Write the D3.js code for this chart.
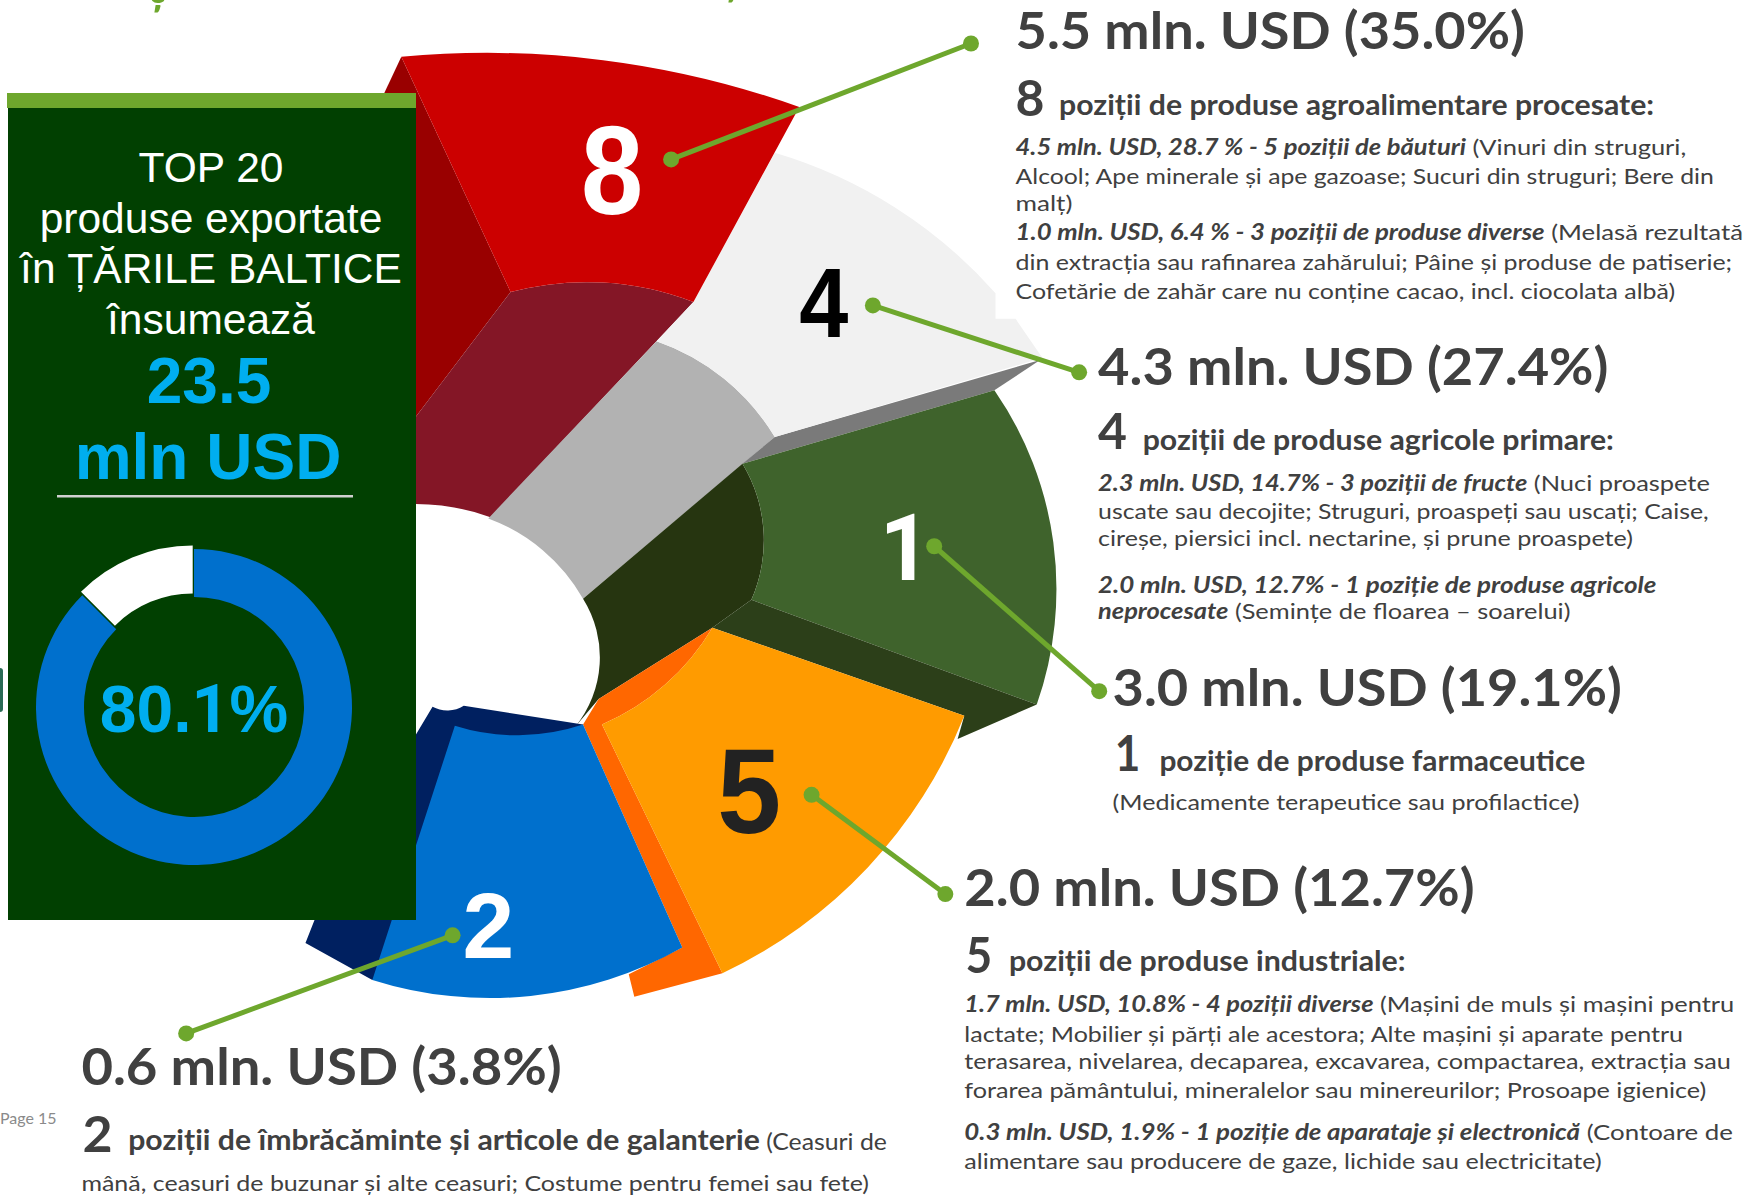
<!DOCTYPE html>
<html>
<head>
<meta charset="utf-8">
<title>Top 20 produse exportate in Tarile Baltice</title>
<script src="https://cdn.jsdelivr.net/npm/d3@7"></script>
<style>
    html, body { margin: 0; background: #fff; overflow: hidden; }
    svg { display: block; }
    .copy { font-family: Lato, sans-serif; fill: #404040; white-space: pre; }
    .panel { font-family: "Liberation Sans", Arial, sans-serif; text-anchor: middle; }
    .digit { font-family: "Liberation Sans", Arial, sans-serif; font-weight: bold; text-anchor: middle; }
    .plain1 { font-family: Roboto, sans-serif; }
</style>
</head>
<body>
<svg width="1748" height="1195"></svg>
<script>
// values
const groupUsd = [5.5, 4.3, 3.0, 2.0, 0.6];
const groupShare = [35.0, 27.4, 19.1, 12.7, 3.8];
const groupPositions = [8, 4, 1, 5, 2];
const groupNames = [
    "poziții de produse agroalimentare procesate:",
    "poziții de produse agricole primare:",
    "poziție de produse farmaceutice",
    "poziții de produse industriale:",
    "poziții de îmbrăcăminte și articole de galanterie"
];
// the drawn wedges are not to scale with the shares, so these are the sweeps seen in the picture (degrees)
const drawnSweep = [25, 32, 54, 43, 47];
// donut as drawn: the label says 80.1 but the gap is about an eighth of the ring
const donutDrawn = [87.5, 12.5];
const totalLabel = "23.5";

const GREEN = "#6ea72d", BLUE = "#0070cd", CYAN = "#00aeef", PANEL = "#014001";

const svg = d3.select("svg");
const px = d3.scaleLinear().domain([0, 1568]).range([0, 1748]);

// wedge angles
const sumRad = d3.sum(drawnSweep) * Math.PI / 180;
const wedges = d3.pie().sort(null).startAngle(0).endAngle(sumRad)(drawnSweep);
const rim = i => (wedges[i].endAngle - wedges[i].startAngle) * 180 / Math.PI;

// Every face of the hand-built 3D pie: outline points in the 1568 wide frame of the picture.
// Third number = arc sweep towards the next point (positive is clockwise on screen).
const faces = [
    { fill: "#990000", pts: [[360, 51], [458, 262], [300, 470], [290, 200]] },
    { fill: "#841626", pts: [[458, 262, 36], [622, 271], [440, 464, -20], [373, 452], [300, 470]] },
    { fill: "#b2b2b2", pts: [[589, 306, 40], [695, 392], [523, 537, -40], [438, 465]] },
    { fill: "#263510", pts: [[666, 416, 55], [674, 538], [639, 563], [537, 627], [516, 652, -71], [523, 537]] },
    { fill: "#7a7a7a", pts: [[933, 323], [695, 392], [666, 416], [892, 350]] },
    { fill: "#f1f1f1", pts: [[695, 137, rim(1)], [893, 263], [893, 286], [911, 286], [935, 321], [695, 392, -40], [589, 306], [622, 271]] },
    { fill: "#3f632c", pts: [[666, 416], [892, 350, rim(2)], [930, 632], [674, 538, -55]] },
    { fill: "#2c3f19", pts: [[674, 538], [930, 632], [859, 663], [865, 642], [639, 563]] },
    { fill: "#ff6700", pts: [[639, 563, 36], [540, 650], [648, 873], [569, 894], [564, 874], [612, 850], [523, 650], [537, 627]] },
    { fill: "#ff9b00", pts: [[639, 563], [865, 642, rim(3)], [648, 873], [540, 650, -36]] },
    { fill: "#002060", pts: [[388, 634, -60], [416, 633], [523, 650], [500, 720], [334, 879], [274, 846], [300, 780], [373, 659]] },
    { fill: BLUE, pts: [[408, 651, -36], [523, 650], [612, 850, rim(4)], [334, 879]] },
    { fill: "#cc0000", pts: [[360, 51, rim(0)], [717, 96], [622, 271, -36], [458, 262]] }
];

// outline with straight and circular edges, through d3.path
function faceOutline(pts) {
    const p = d3.path();
    pts.forEach((a, i) => {
        const b = pts[(i + 1) % pts.length];
        const ax = px(a[0]), ay = px(a[1]), bx = px(b[0]), by = px(b[1]);
        if (i === 0) p.moveTo(ax, ay);
        if (!a[2]) { p.lineTo(bx, by); return; }
        const cw = a[2] > 0;
        const half = Math.abs(a[2]) * Math.PI / 360;
        const L = Math.hypot(bx - ax, by - ay);
        const R = L / (2 * Math.sin(half));
        const h = R * Math.cos(half) * (cw ? 1 : -1);
        const cx = (ax + bx) / 2 - (by - ay) / L * h;
        const cy = (ay + by) / 2 + (bx - ax) / L * h;
        p.arc(cx, cy, R, Math.atan2(ay - cy, ax - cx), Math.atan2(by - cy, bx - cx), !cw);
    });
    p.closePath();
    return p.toString();
}

svg.append("g").selectAll("path").data(faces).join("path")
    .attr("d", d => faceOutline(d.pts))
    .attr("fill", d => d.fill);

// big numbers sitting on the wedges
const digitLayout = [
    { x: 549, y: 192, size: 127, sx: 0.88, fill: "#fff" },
    { x: 739, y: 302, size: 98, sx: 0.9, fill: "#000" },
    { x: 812, y: 520, size: 93, sx: 0.95, fill: "#fff" },
    { x: 672, y: 747, size: 121, sx: 0.95, fill: "#222" },
    { x: 438, y: 859, size: 93, sx: 1, fill: "#fff" }
];
svg.append("g").selectAll("text").data(groupPositions).join("text")
    .attr("class", d => d === 1 ? "digit plain1" : "digit")
    .attr("transform", (d, i) => `translate(${px(digitLayout[i].x)},${px(digitLayout[i].y)}) scale(${digitLayout[i].sx},1)`)
    .attr("font-size", (d, i) => digitLayout[i].size)
    .attr("fill", (d, i) => digitLayout[i].fill)
    .text(d => d);

// side panel
svg.append("rect").attr("x", 8).attr("y", 108).attr("width", 408).attr("height", 812).attr("fill", PANEL);
svg.append("rect").attr("x", 7).attr("y", 93).attr("width", 409).attr("height", 15).attr("fill", GREEN);

const panelLines = [
    { t: "TOP 20", x: 211, y: 182, size: 42.5, fill: "#fff" },
    { t: "produse exportate", x: 211, y: 233, size: 42.5, fill: "#fff" },
    { t: "în ȚĂRILE BALTICE", x: 211, y: 283, size: 42.5, fill: "#fff" },
    { t: "însumează", x: 211, y: 334, size: 42.5, fill: "#fff" },
    { t: totalLabel, x: 209, y: 403, size: 64, fill: CYAN, bold: true },
    { t: "mln USD", x: 208, y: 479, size: 64, fill: CYAN, bold: true }
];
svg.append("g").selectAll("text").data(panelLines).join("text")
    .attr("class", "panel")
    .attr("x", d => d.x).attr("y", d => d.y)
    .attr("font-size", d => d.size)
    .attr("font-weight", d => d.bold ? "bold" : "normal")
    .attr("fill", d => d.fill)
    .text(d => d.t);
svg.append("rect").attr("x", 57).attr("y", 495).attr("width", 296).attr("height", 2.5).attr("fill", "#d0d0d0");

// donut, white part pulled out a little
const donut = svg.append("g").attr("transform", "translate(194,707)");
const donutPie = d3.pie().sort(null)(donutDrawn);
const donutArc = d3.arc().innerRadius(110).outerRadius(158);
donut.selectAll("path").data(donutPie).join("path")
    .attr("d", donutArc)
    .attr("fill", (d, i) => i ? "#fff" : BLUE)
    .attr("transform", (d, i) => i ? "translate(-1.3,-3.5)" : null);
const donutText = donut.append("text").attr("class", "panel")
    .attr("y", 25).attr("font-size", 66).attr("font-weight", "bold").attr("fill", CYAN);
donutText.append("tspan").text("80.");
donutText.append("tspan").attr("class", "plain1").text("1");
donutText.append("tspan").text("%");

// leader lines
const leaders = [
    { from: [602, 143], to: [871, 39] },
    { from: [783, 274], to: [968, 334] },
    { from: [838, 490], to: [986, 620] },
    { from: [728, 713], to: [848, 802] },
    { from: [406, 839], to: [167, 927] }
];
const leader = svg.append("g");
leader.selectAll("line").data(leaders).join("line")
    .attr("x1", d => px(d.from[0])).attr("y1", d => px(d.from[1]))
    .attr("x2", d => px(d.to[0])).attr("y2", d => px(d.to[1]))
    .attr("stroke", GREEN).attr("stroke-width", 5);
leader.selectAll("circle").data(leaders.flatMap(d => [d.from, d.to])).join("circle")
    .attr("cx", d => px(d[0])).attr("cy", d => px(d[1])).attr("r", 8).attr("fill", GREEN);

// text blocks. Each line: x, baseline, right end (picture frame), font size, runs
const R = "r", B = "b", BI = "bi";
const HEAD = 51, BIG = 50, SUB = 28, BODY = 22;
const head = i => [[`${groupUsd[i].toFixed(1)} mln. USD (${groupShare[i].toFixed(1)}%)`, B]];
const copyLines = [
    [911, 44, 1368, HEAD, head(0)],
    [911, 104, 937, BIG, [[String(groupPositions[0]), B]]],
    [950, 103, 1484, SUB, [[groupNames[0], B]]],
    [911, 139, 1513, BODY, [["4.5 mln. USD, 28.7 % - 5 poziții de băuturi", BI], [" (Vinuri din struguri,", R]]],
    [911, 165, 1538, BODY, [["Alcool; Ape minerale și ape gazoase; Sucuri din struguri; Bere din", R]]],
    [911, 189, 962, BODY, [["malț)", R]]],
    [911, 215, 1564, BODY, [["1.0 mln. USD, 6.4 % - 3 poziții de produse diverse", BI], [" (Melasă rezultată", R]]],
    [911, 242, 1554, BODY, [["din extracția sau rafinarea zahărului; Pâine și produse de patiserie;", R]]],
    [911, 268, 1503, BODY, [["Cofetărie de zahăr care nu conține cacao, incl. ciocolata albă)", R]]],

    [985, 345, 1443, HEAD, head(1)],
    [985, 403, 1011, BIG, [[String(groupPositions[1]), B]]],
    [1025, 404, 1448, SUB, [[groupNames[1], B]]],
    [985, 440, 1534, BODY, [["2.3 mln. USD, 14.7% - 3 poziții de fructe", BI], [" (Nuci proaspete", R]]],
    [985, 466, 1533, BODY, [["uscate sau decojite; Struguri, proaspeți sau uscați; Caise,", R]]],
    [985, 490, 1465, BODY, [["cireșe, piersici incl. nectarine, și prune proaspete)", R]]],
    [985, 532, 1486, BODY, [["2.0 mln. USD, 12.7% - 1 poziție de produse agricole", BI]]],
    [985, 555, 1409, BODY, [["neprocesate", BI], [" (Semințe de floarea – soarelui)", R]]],

    [998, 633, 1455, HEAD, head(2)],
    [1000, 692, 1023, BIG, [[String(groupPositions[2]), B]]],
    [1040, 692, 1422, SUB, [[groupNames[2], B]]],
    [998, 727, 1417, BODY, [["(Medicamente terapeutice sau profilactice)", R]]],

    [865, 813, 1323, HEAD, head(3)],
    [866, 873, 890, BIG, [[String(groupPositions[3]), B]]],
    [905, 871, 1261, SUB, [[groupNames[3], B]]],
    [865, 908, 1556, BODY, [["1.7 mln. USD, 10.8% - 4 poziții diverse", BI], [" (Mașini de muls și mașini pentru", R]]],
    [865, 935, 1510, BODY, [["lactate; Mobilier și părți ale acestora; Alte mașini și aparate pentru", R]]],
    [865, 959, 1553, BODY, [["terasarea, nivelarea, decaparea, excavarea, compactarea, extracția sau", R]]],
    [865, 985, 1531, BODY, [["forarea pământului, mineralelor sau minereurilor; Prosoape igienice)", R]]],
    [865, 1023, 1555, BODY, [["0.3 mln. USD, 1.9% - 1 poziție de aparataje și electronică", BI], [" (Contoare de", R]]],
    [865, 1049, 1437, BODY, [["alimentare sau producere de gaze, lichide sau electricitate)", R]]],

    [73, 973, 504, HEAD, head(4)],
    [74, 1033, 101, BIG, [[String(groupPositions[4]), B]]],
    [115, 1032, 796, SUB, [[groupNames[4], B], [" (Ceasuri de", "s"]]],
    [73, 1068, 780, BODY, [["mână, ceasuri de buzunar și alte ceasuri; Costume pentru femei sau fete)", R]]]
];

const copy = svg.append("g").selectAll("text").data(copyLines).join("text")
    .attr("class", "copy")
    .attr("font-size", d => d[3]);
copy.selectAll("tspan").data(d => d[4]).join("tspan")
    .attr("font-weight", d => d[1] === B || d[1] === BI ? "bold" : "normal")
    .attr("font-style", d => d[1] === BI ? "italic" : "normal")
    .attr("font-size", d => d[1] === "s" ? 23 : null)
    .text(d => d[0]);
// squeeze each line to the width it has in the picture (Lato is a bit wider than the original font)
copy.attr("transform", function(d) {
    const ratio = (px(d[2]) - px(d[0])) / this.getComputedTextLength();
    return `translate(${px(d[0])},${px(d[1])}) scale(${ratio},1)`;
});

// page number, cropped title tails, edge mark
svg.append("text").attr("x", 0).attr("y", px(1008)).attr("font-family", "Lato, sans-serif")
    .attr("font-size", 16).attr("fill", "#8a8a8a").text("Page 15");
svg.append("text").attr("x", 146).attr("y", 3).attr("font-family", "Lato, sans-serif").attr("font-weight", "bold")
    .attr("font-size", 50).attr("fill", GREEN).text("ț");
svg.append("text").attr("x", 720).attr("y", -7).attr("font-family", "Lato, sans-serif").attr("font-weight", "bold")
    .attr("font-size", 50).attr("fill", GREEN).text("ț");
svg.append("rect").attr("x", -4).attr("y", 668).attr("width", 7).attr("height", 44).attr("rx", 3).attr("fill", "#2a6b55");
</script>
</body>
</html>
